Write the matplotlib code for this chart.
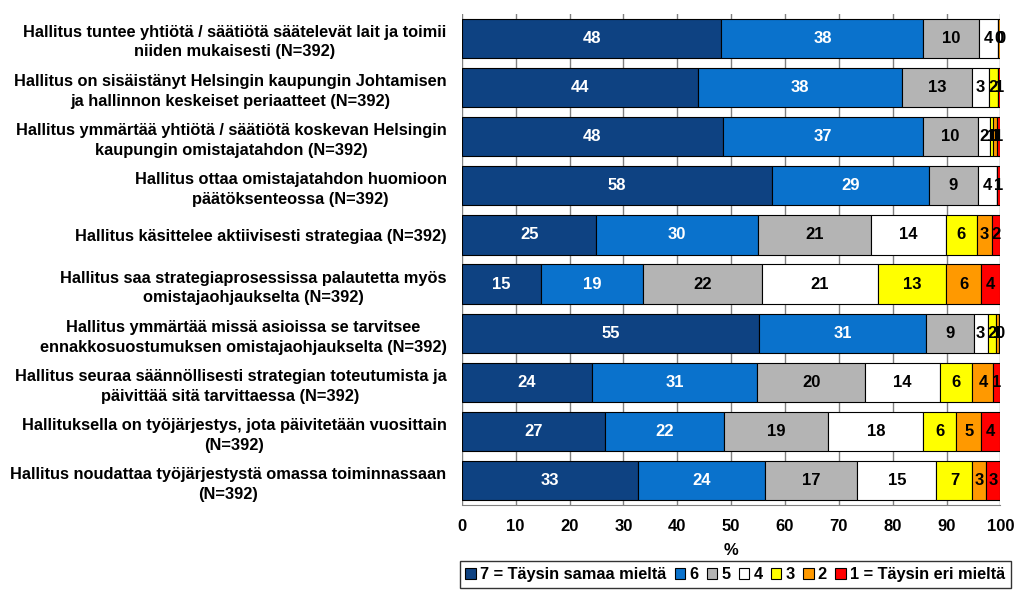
import matplotlib.pyplot as plt
import numpy as np

plt.rcParams['font.family'] = ['Liberation Sans', 'DejaVu Sans']
plt.rcParams['font.weight'] = 'bold'

# data
questions = [
    "Hallitus tuntee yhtiötä / säätiötä säätelevät lait ja toimii\nniiden mukaisesti (N=392)",
    "Hallitus on sisäistänyt Helsingin kaupungin Johtamisen\nja hallinnon keskeiset periaatteet (N=392)",
    "Hallitus ymmärtää yhtiötä / säätiötä koskevan Helsingin\nkaupungin omistajatahdon (N=392)",
    "Hallitus ottaa omistajatahdon huomioon\npäätöksenteossa (N=392)",
    "Hallitus käsittelee aktiivisesti strategiaa (N=392)",
    "Hallitus saa strategiaprosessissa palautetta myös\nomistajaohjaukselta (N=392)",
    "Hallitus ymmärtää missä asioissa se tarvitsee\nennakkosuostumuksen omistajaohjaukselta (N=392)",
    "Hallitus seuraa säännöllisesti strategian toteutumista ja\npäivittää sitä tarvittaessa (N=392)",
    "Hallituksella on työjärjestys, jota päivitetään vuosittain\n(N=392)",
    "Hallitus noudattaa työjärjestystä omassa toiminnassaan\n(N=392)",
]
categories = ["7 = Täysin samaa mieltä", "6", "5", "4", "3", "2", "1 = Täysin eri mieltä"]

s7 = [48.2, 43.9, 48.4, 57.6, 25.0, 14.7, 55.2, 24.2, 26.6, 32.7]
s6 = [37.5, 37.9, 37.2, 29.1, 30.0, 18.9, 31.0, 30.6, 22.1, 23.6]
s5 = [10.3, 13.0, 10.3, 9.1, 21.0, 22.2, 8.8, 20.1, 19.3, 17.1]
s4 = [3.6, 3.0, 2.1, 3.6, 13.8, 21.4, 2.6, 13.9, 17.7, 14.7]
s3 = [0.0, 1.7, 0.7, 0.0, 5.8, 12.7, 1.6, 6.0, 6.1, 6.7]
s2 = [0.3, 0.0, 0.7, 0.0, 2.8, 6.5, 0.6, 3.9, 4.6, 2.6]
s1 = [0.3, 0.6, 0.6, 0.6, 1.6, 3.6, 0.2, 1.3, 3.6, 2.6]
series = [s7, s6, s5, s4, s3, s2, s1]

colors = ['#0E4282', '#0A72CC', '#B4B4B4', '#FFFFFF', '#FFFF00', '#FF9900', '#FF0000']
text_colors = ['white', 'white', 'black', 'black', 'black', 'black', 'black']

fig = plt.figure(figsize=(10.24, 5.91), dpi=100)
ax = fig.add_axes([0.451, 0.145, 0.526, 0.832])

y = np.arange(len(questions))
left = np.zeros(len(questions))
for vals, col, tc, lab in zip(series, colors, text_colors, categories):
    vals = np.array(vals)
    ax.barh(y, vals, left=left, height=0.8, color=col, edgecolor='black',
            linewidth=0.8, label=lab, zorder=2)
    for yi, (l, v) in enumerate(zip(left, vals)):
        if v > 0:
            ax.text(l + v / 2, yi, str(int(round(v))), ha='center', va='center',
                    color=tc, fontsize=12, fontweight='bold', zorder=3)
    left += vals

ax.set_xlim(0, 100)
ax.set_ylim(len(questions) - 0.5, -0.5)
ax.set_xticks(np.arange(0, 101, 10))
ax.set_yticks(y)
ax.set_yticklabels(questions, fontsize=11.8, fontweight='bold',
                   multialignment='center', linespacing=1.4)
ax.tick_params(axis='y', length=0, pad=11)
ax.tick_params(axis='x', labelsize=12, length=0, pad=10)
for t in ax.get_xticklabels():
    t.set_fontweight('bold')
ax.set_xlabel('%', fontsize=12, fontweight='bold', labelpad=6)
ax.xaxis.grid(True, color='#808080', linewidth=1, zorder=0)
ax.set_axisbelow(True)

ax.spines['top'].set_visible(False)
ax.spines['left'].set_visible(False)
ax.spines['right'].set_visible(False)
ax.spines['bottom'].set_color('#808080')

leg = fig.legend(loc='lower right', bbox_to_anchor=(0.995, -0.008), ncol=7,
                 fontsize=11.8, frameon=True, fancybox=False, edgecolor='black',
                 handlelength=0.65, handleheight=0.65, handletextpad=0.25,
                 columnspacing=0.5, borderpad=0.35)
leg.get_frame().set_linewidth(1.0)
for t in leg.get_texts():
    t.set_fontweight('bold')

fig.savefig('out.png', dpi=100)
